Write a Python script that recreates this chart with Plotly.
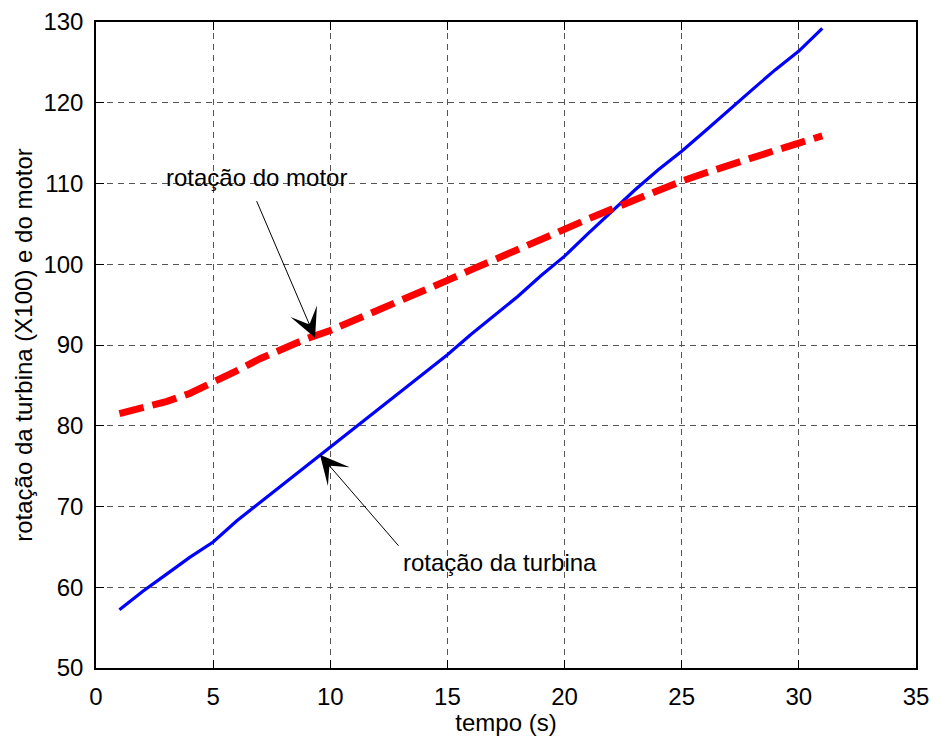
import plotly.graph_objects as go

# time axis (s)
tempo = list(range(1, 32))

# turbine speed (x100) and motor speed
turbina = [57.2, 59.5, 61.6, 63.7, 65.6, 68.2, 70.5, 72.8, 75.0, 77.3,
           79.6, 82.0, 84.2, 86.6, 88.8, 91.3, 93.6, 96.0, 98.6, 101.0,
           103.8, 106.5, 109.2, 111.7, 114.0, 116.5, 119.1, 121.6, 124.1, 126.4,
           129.2]
motor = [81.5, 82.2, 83.0, 84.0, 85.3, 86.8, 88.3, 89.6, 90.8, 91.8,
         93.0, 94.4, 95.6, 96.8, 98.0, 99.3, 100.6, 101.8, 103.0, 104.4,
         105.6, 106.8, 108.0, 109.2, 110.3, 111.3, 112.3, 113.2, 114.1, 115.0,
         115.9]

x_ticks = [0, 5, 10, 15, 20, 25, 30, 35]
y_ticks = [50, 60, 70, 80, 90, 100, 110, 120, 130]

FONT = "Liberation Sans, Arial, Helvetica, sans-serif"
FS = 24

fig = go.Figure()
fig.add_trace(go.Scatter(x=tempo, y=turbina, mode="lines",
                         line=dict(color="#0000ff", width=3.2),
                         showlegend=False, hoverinfo="skip"))
fig.add_trace(go.Scatter(x=tempo, y=motor, mode="lines",
                         line=dict(color="#ff0000", width=7, dash="25px,9px"),
                         showlegend=False, hoverinfo="skip"))

axis_common = dict(
    showline=True, linecolor="black", linewidth=1.5, mirror="ticks",
    ticks="inside", ticklen=8, tickcolor="black", tickwidth=1,
    showgrid=True, gridcolor="#555555", gridwidth=1, griddash="6px,5px",
    zeroline=False, tickfont=dict(family=FONT, size=FS, color="black"),
    ticklabelstandoff=6, automargin=False,
)

fig.update_xaxes(range=[0, 35], tickvals=x_ticks,
                 title=dict(text="tempo (s)", font=dict(family=FONT, size=FS, color="black"),
                            standoff=9),
                 **axis_common)
fig.update_yaxes(range=[50, 130], tickvals=y_ticks,
                 title=dict(text="rotação da turbina (X100) e do motor",
                            font=dict(family=FONT, size=FS, color="black"), standoff=4),
                 **axis_common)

# arrows pointing at each curve
arrow = dict(showarrow=True, arrowhead=3, arrowsize=4.8, arrowwidth=1,
             arrowcolor="black", xref="x", yref="y", axref="x", ayref="y", text="")
fig.add_annotation(x=9.35, y=90.9, ax=6.83, ay=108.0, **arrow)
fig.add_annotation(x=9.56, y=76.4, ax=12.97, ay=64.95, **arrow)

# labels
fig.add_annotation(x=6.87, y=110.7, text="rotação do motor", showarrow=False,
                   xref="x", yref="y", font=dict(family=FONT, size=FS, color="black"))
fig.add_annotation(x=17.26, y=63.1, text="rotação da turbina", showarrow=False,
                   xref="x", yref="y", font=dict(family=FONT, size=FS, color="black"))

fig.update_layout(
    width=933, height=736,
    margin=dict(l=96, r=17, t=22, b=68),
    paper_bgcolor="white", plot_bgcolor="white",
    font=dict(family=FONT, size=FS, color="black"),
)

fig.write_html("out.html")
